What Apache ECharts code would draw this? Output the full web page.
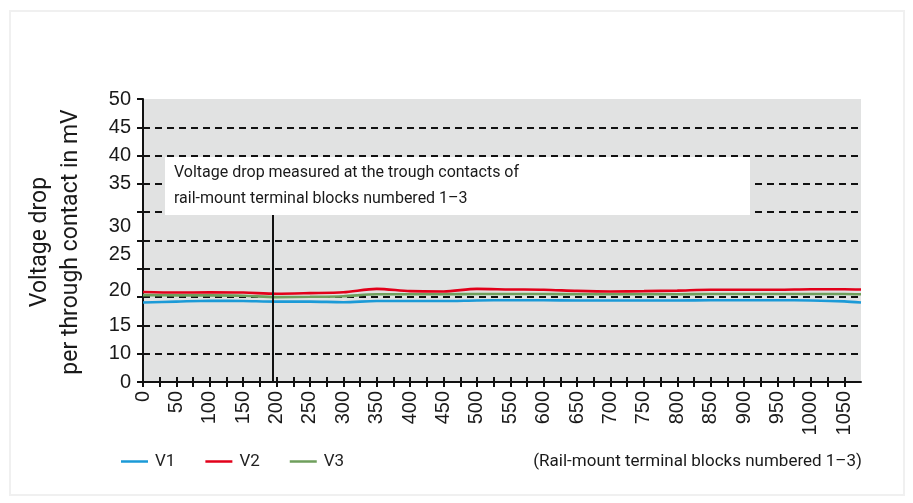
<!DOCTYPE html>
<html>
<head>
<meta charset="utf-8">
<script src="https://cdn.jsdelivr.net/npm/echarts@6/dist/echarts.min.js"></script>
<style>
  html, body { margin: 0; padding: 0; background: #fff; }
  #chart { width: 913px; height: 503px; }
</style>
</head>
<body>
<div id="chart"></div>
<script>
// number of terminal blocks (x) and measured voltage drop in mV
var xBlocks = [0, 50, 100, 150, 200, 250, 300, 350, 400, 450, 500, 550, 600, 650, 700, 750, 800, 850, 900, 950, 1000, 1050, 1075];
var v1 = [19.05, 19.2, 19.35, 19.3, 19.2, 19.2, 19.1, 19.3, 19.3, 19.3, 19.4, 19.45, 19.45, 19.4, 19.4, 19.4, 19.4, 19.45, 19.45, 19.45, 19.4, 19.25, 19.05];
var v2 = [20.9, 20.8, 20.85, 20.8, 20.6, 20.7, 20.85, 21.45, 21.05, 21.0, 21.45, 21.35, 21.3, 21.1, 21.0, 21.05, 21.15, 21.3, 21.3, 21.3, 21.4, 21.4, 21.35];
var v3 = [20.35, 20.3, 20.3, 20.25, 20.0, 20.05, 20.15, 20.5, 20.5, 20.5, 20.55, 20.55, 20.55, 20.5, 20.5, 20.5, 20.5, 20.55, 20.55, 20.55, 20.55, 20.55, 20.5];
var seriesNames = ['V1', 'V2', 'V3'];

// x ticks every 25 blocks, labels every 50, up to 1050
var xTickStep = 25;
var xTickLast = 1050;
// broken y axis: labels and where they sit (in axis slots, 0..10)
var yTickLabels = ['0', '10', '15', '20', '25', '30', '35', '40', '45', '50'];
var yLabelSlots = [0, 1, 2, 3.25, 4.5, 5.5, 7, 8, 9, 10];
var dividerX = [195];

var chart = echarts.init(document.getElementById('chart'));
var narrow = 'Roboto, "Noto Sans", sans-serif';
var numFont = '"Liberation Sans", Arial, sans-serif';

// mV -> slot on the broken axis (0..10 is one slot, then 5 mV per slot)
function toSlot(v) {
    if (v <= 10) return v / 10;
    return 1 + (v - 10) / 5;
}
function pairs(arr) {
    var out = [];
    for (var i = 0; i < arr.length; i++) {
        out.push([xBlocks[i], toSlot(arr[i])]);
    }
    return out;
}
var xTicks = [];
for (var t = 0; t <= xTickLast; t += xTickStep) xTicks.push(t);

var colors = ['#1b9ad7', '#e2001a', '#6f9f5c'];
var lists = [v1, v2, v3];
var series = [];
for (var s = 0; s < 3; s++) {
    series.push({
        name: seriesNames[s],
        type: 'line',
        data: pairs(lists[s]),
        smooth: 0.3,
        showSymbol: false,
        lineStyle: { color: colors[s], width: 2.6 },
        itemStyle: { color: colors[s] },
        z: 3
    });
}
series[0].markLine = {
    silent: true,
    symbol: 'none',
    label: { show: false },
    lineStyle: { color: '#111', width: 2, type: 'solid' },
    data: [[{ coord: [dividerX[0], 0] }, { coord: [dividerX[0], 6] }]]
};

var option = {
    animation: false,
    color: colors,
    grid: {
        left: 143, right: 52, top: 99, bottom: 121,
        show: true, backgroundColor: '#e1e2e2', borderWidth: 0
    },
    legend: {
        left: 121, top: 453, padding: 0,
        icon: 'rect', itemWidth: 27, itemHeight: 2.5, itemGap: 30,
        data: seriesNames,
        textStyle: { fontFamily: narrow, fontSize: 17, color: '#222', padding: [0, 0, 0, 2] }
    },
    xAxis: [{
        type: 'value', min: 0, max: 1075, interval: 25,
        axisLine: { show: true, lineStyle: { color: '#111', width: 2 } },
        axisTick: { show: true, length: 5, customValues: xTicks, lineStyle: { color: '#111', width: 2 } },
        axisLabel: {
            rotate: 90, margin: 9, fontFamily: numFont, fontSize: 20, color: '#1a1a1a',
            formatter: function (v) { return (v % 50 === 0 && v <= xTickLast) ? String(v) : ''; }
        },
        splitLine: { show: false }
    }, {
        type: 'value', min: 0, max: 1075, interval: 25, position: 'bottom',
        axisLine: { show: false },
        axisTick: { show: true, inside: true, length: 5, customValues: xTicks, lineStyle: { color: '#111', width: 2 } },
        axisLabel: { show: false },
        splitLine: { show: false }
    }],
    yAxis: [{
        type: 'value', min: 0, max: 10, interval: 1,
        axisLine: { show: true, lineStyle: { color: '#111', width: 2 } },
        axisTick: { show: true, length: 6, lineStyle: { color: '#111', width: 2 } },
        axisLabel: { show: false },
        splitLine: {
            show: true, showMinLine: false, showMaxLine: false,
            lineStyle: { color: '#111', width: 1.8, type: [7, 5] }
        }
    }, {
        type: 'value', min: 0, max: 10, interval: 0.25, position: 'left',
        axisLine: { show: false }, axisTick: { show: false }, splitLine: { show: false },
        axisLabel: {
            margin: 12, fontFamily: numFont, fontSize: 20, color: '#1a1a1a',
            formatter: function (v) {
                var i = yLabelSlots.indexOf(v);
                return i >= 0 ? yTickLabels[i] : '';
            }
        }
    }],
    series: series,
    graphic: [
        {
            type: 'rect', z: 0, silent: true,
            shape: { x: 10, y: 11, width: 894, height: 484 },
            style: { fill: 'none', stroke: '#f0f0f0', lineWidth: 2 }
        },
        {
            type: 'rect', z: 100, silent: true,
            shape: { x: 165, y: 157, width: 585, height: 58 },
            style: { fill: '#fff' }
        },
        {
            type: 'text', z: 101, left: 174, top: 165, silent: true,
            style: { text: 'Voltage drop measured at the trough contacts of', fontFamily: narrow, fontSize: 16, fill: '#1a1a1a' }
        },
        {
            type: 'text', z: 101, left: 174, top: 191, silent: true,
            style: { text: 'rail-mount terminal blocks numbered 1\u20133', fontFamily: narrow, fontSize: 16, fill: '#1a1a1a' }
        },
        {
            type: 'text', z: 101, right: 51, top: 453, silent: true,
            style: { text: '(Rail-mount terminal blocks numbered 1\u20133)', fontFamily: narrow, fontSize: 17, fill: '#1a1a1a' }
        },
        {
            type: 'text', z: 101, x: 56, y: 242, rotation: Math.PI / 2, silent: true,
            style: {
                text: 'Voltage drop\nper through contact in mV',
                fontFamily: narrow, fontSize: 23, lineHeight: 31, fill: '#1a1a1a',
                align: 'center', verticalAlign: 'middle'
            }
        }
    ]
};
chart.setOption(option);
</script>
</body>
</html>
